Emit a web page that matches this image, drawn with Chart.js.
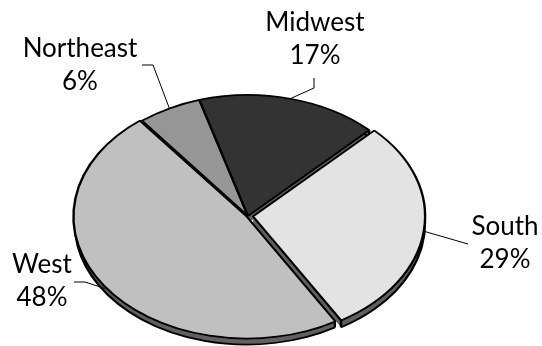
<!DOCTYPE html>
<html>
<head>
<meta charset="utf-8">
<script src="https://cdn.jsdelivr.net/npm/chart.js@4/dist/chart.umd.min.js"></script>
<style>
  html,body{margin:0;padding:0;background:#fff;}
  #wrap{width:542px;height:346px;}
</style>
</head>
<body>
<div id="wrap"><canvas id="pieChart" width="542" height="346"></canvas></div>
<script>
// data
const regions = ['Northeast','Midwest','South','West'];
const shares = [6,17,29,48];
const shareLabels = ['6%','17%','29%','48%'];
const fills = ['#969696','#333333','#e3e3e3','#c0c0c0'];
const explode = [0,0,20,6];

// label layout: text centre x, first baseline, leader bend points (text side first)
const labelSpots = [
  {x:80,  y:57,  path:[[142,65],[153,65]]},
  {x:315, y:31,  path:[[314,78],[314,88]]},
  {x:505, y:235, path:[[468,244]]},
  {x:42,  y:273, path:[[74,282],[85,282]]},
];

const squash = 0.7035;   // vertical squeeze for the tilted look
const depth = 7;         // side wall height in px
const wallColor = '#606060';

function sliceShift(a){
  const mid = (a.startAngle+a.endAngle)/2, off = (a.options.offset||0)/4;
  return [Math.cos(mid)*off, Math.sin(mid)*off, mid];
}

const tilt = {
  id:'tilt',
  beforeDatasetsDraw(chart){
    const ctx = chart.ctx;
    const arcs = chart.getDatasetMeta(0).data;
    const cx = arcs[0].x, cy = arcs[0].y;
    ctx.save();
    ctx.translate(cx,cy); ctx.scale(1,squash); ctx.translate(-cx,-cy);
    // side wall, filled layer by layer
    ctx.fillStyle = wallColor;
    arcs.forEach(a=>{
      const [ox,oy] = sliceShift(a);
      for(let d=1; d<=depth; d++){
        const y = a.y+oy+d/squash;
        ctx.beginPath();
        ctx.moveTo(a.x+ox, y);
        ctx.arc(a.x+ox, y, a.outerRadius, a.startAngle, a.endAngle);
        ctx.closePath();
        ctx.fill();
      }
    });
    // bottom rim + wall ends
    ctx.strokeStyle = '#000';
    ctx.lineWidth = 2.4;
    arcs.forEach(a=>{
      const [ox,oy] = sliceShift(a);
      const y = a.y+oy+depth/squash;
      ctx.beginPath();
      ctx.arc(a.x+ox, y, a.outerRadius, a.startAngle, a.endAngle);
      ctx.stroke();
      [a.startAngle,a.endAngle].forEach(t=>{
        const px = a.x+ox+Math.cos(t)*a.outerRadius, py = a.y+oy+Math.sin(t)*a.outerRadius;
        ctx.beginPath();
        ctx.moveTo(px,py); ctx.lineTo(px,py+depth/squash);
        ctx.stroke();
      });
    });
  },
  afterDatasetsDraw(chart){
    const ctx = chart.ctx;
    ctx.restore();
    const arcs = chart.getDatasetMeta(0).data;
    const cx = arcs[0].x, cy = arcs[0].y;
    ctx.save();
    ctx.strokeStyle = '#000';
    ctx.lineWidth = 1;
    ctx.fillStyle = '#000';
    ctx.font = '26px Lato';
    ctx.textAlign = 'center';
    arcs.forEach((a,i)=>{
      const [ox,oy,mid] = sliceShift(a);
      const r = a.outerRadius;
      let ax = cx+ox+Math.cos(mid)*r;
      let ay = cy+(oy+Math.sin(mid)*r)*squash;
      if(Math.sin(mid)>0.3) ay += depth/2;
      const spot = labelSpots[i];
      ctx.beginPath();
      ctx.moveTo(spot.path[0][0], spot.path[0][1]);
      spot.path.slice(1).forEach(p=>ctx.lineTo(p[0],p[1]));
      ctx.lineTo(ax,ay);
      ctx.stroke();
      ctx.fillText(regions[i], spot.x, spot.y);
      ctx.fillText(shareLabels[i], spot.x, spot.y+33);
    });
    ctx.restore();
  }
};

document.addEventListener('DOMContentLoaded',()=>{
  const ctx = document.getElementById('pieChart').getContext('2d');
  new Chart(ctx,{
    type:'pie',
    data:{
      labels: regions,
      datasets:[{
        data: shares,
        backgroundColor: fills,
        borderColor:'#000',
        borderWidth:2.4,
        offset: explode,
        clip:false
      }]
    },
    options:{
      responsive:false,
      devicePixelRatio:1,
      animation:false,
      events:[],
      rotation:-38,
      radius:172,
      layout:{padding:{left:0,right:46,top:86,bottom:0}},
      plugins:{legend:{display:false},tooltip:{enabled:false}}
    },
    plugins:[tilt]
  });
});
</script>
</body>
</html>
